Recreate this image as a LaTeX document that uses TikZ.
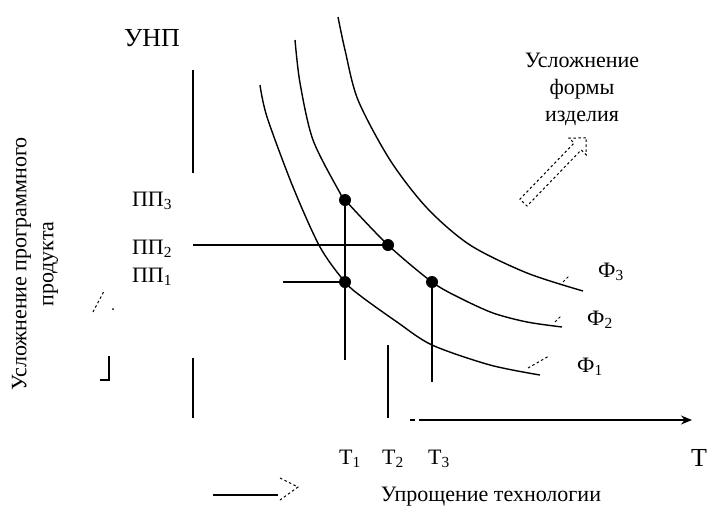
\documentclass[tikz,border=0pt]{standalone}
\usepackage{fontspec}
\setmainfont{Liberation Serif}
\usetikzlibrary{arrows.meta,shapes.arrows}
\begin{document}
\begin{tikzpicture}[x=1pt,y=-1pt,
  curve/.style={line width=1.4pt},
  ln/.style={line width=1.3pt},
  dot/.style={circle,fill,inner sep=0pt,minimum size=12pt},
  lbl/.style={inner sep=0pt,font=\fontsize{22}{24}\selectfont},
  biglbl/.style={inner sep=0pt,font=\fontsize{26}{28}\selectfont},
  small/.style={inner sep=0pt,font=\fontsize{22}{27}\selectfont,align=center},
  dsh/.style={line width=1pt,dash pattern=on 2.5pt off 2.5pt}]
\useasboundingbox (0,0) rectangle (708,509);

% points
\node[dot] (a) at (345,200) {};
\node[dot] (b) at (388,245) {};
\node[dot] (c) at (345,282) {};
\node[dot] (d) at (432,282) {};

% curves
\draw[curve] plot[smooth] coordinates {(260,85) (267,117) (293,187) (320,247) (345,282) (362,297) (397,322) (432,345) (490,365) (540,375)};
\draw[curve] plot[smooth] coordinates {(295,40) (300,83) (313,140) (340,193) (345,200) (388,245) (432,282) (460,298) (493,313) (527,322) (562,327)};
\draw[curve] plot[smooth] coordinates {(338,17) (345,50) (358,100) (390,160) (427,208) (470,245) (527,273) (583,291)};

% axes (broken)
\coordinate (ya1) at (193,70); \coordinate (ya2) at (193,173);
\coordinate (ya3) at (193,358); \coordinate (ya4) at (193,418);
\draw[ln] (ya1) -- (ya2);
\draw[ln] (ya3) -- (ya4);
\coordinate (xd1) at (410,420); \coordinate (xd2) at (415,420);
\coordinate (xa1) at (419,420); \coordinate (xa2) at (692,420);
\draw[ln] (xd1) -- (xd2);
\draw[ln,-{Stealth[length=11pt,width=9pt]}] (xa1) -- (xa2);

% level and time lines
\coordinate (pp2s) at (193,245);
\coordinate (pp1s) at (283,282);
\draw[ln] (pp2s) -- (b.center);
\draw[ln] (pp1s) -- (c.center);
\draw[line width=2pt] (a.center) -- (c.center);
\coordinate (t1e) at (345,360);
\draw[ln] (c.center) -- (t1e);
\coordinate (t2a) at (388,345); \coordinate (t2b) at (388,418);
\draw[ln] (t2a) -- (t2b);
\coordinate (t3e) at (432,382);
\draw[ln] (d.center) -- (t3e);

% leaders to curve labels
\draw[dsh] (563,282) -- (569,276);
\draw[dsh] (555,322) -- (561,316);
\draw[dsh] (528,368) -- (549,356);

% labels
\node[biglbl] (unp) at (152,38) {УНП};
\node[lbl] (pp3) at (152,201) {ПП\textsubscript{3}};
\node[lbl] (pp2) at (152,249) {ПП\textsubscript{2}};
\node[lbl] (pp1) at (152,277) {ПП\textsubscript{1}};
\node[lbl] (f3) at (611,272) {Ф\textsubscript{3}};
\node[lbl] (f2) at (600,320) {Ф\textsubscript{2}};
\node[lbl] (f1) at (590,367) {Ф\textsubscript{1}};
\node[lbl] (t1) at (350,459) {Т\textsubscript{1}};
\node[lbl] (t2) at (393,459) {Т\textsubscript{2}};
\node[lbl] (t3) at (439,459) {Т\textsubscript{3}};
\node[biglbl] (tt) at (699,458) {Т};

\node[small,rotate=90] (ylab) at (35,264) {Усложнение программного\\продукта};
\node[small] (form) at (582,89) {Усложнение\\формы\\изделия};
\node[small] (tech) at (491,497) {Упрощение технологии};

% hollow arrow top right
\node[single arrow,draw,dsh,minimum height=90pt,minimum width=24pt,
      single arrow head extend=5pt,inner sep=3pt,rotate=46] (ar1) at (553,172) {};

% left arrow fragments
\draw[ln] (100,380) -- (109,380) -- (109,356);
\draw[dsh] (93,312) -- (104,291);
\fill (113,309) circle (1pt);

% bottom arrow
\coordinate (ba1) at (213,495); \coordinate (ba2) at (278,495);
\draw[ln] (ba1) -- (ba2);
\draw[dsh] (280,478) -- (298,487) -- (280,500);
\end{tikzpicture}
\end{document}
